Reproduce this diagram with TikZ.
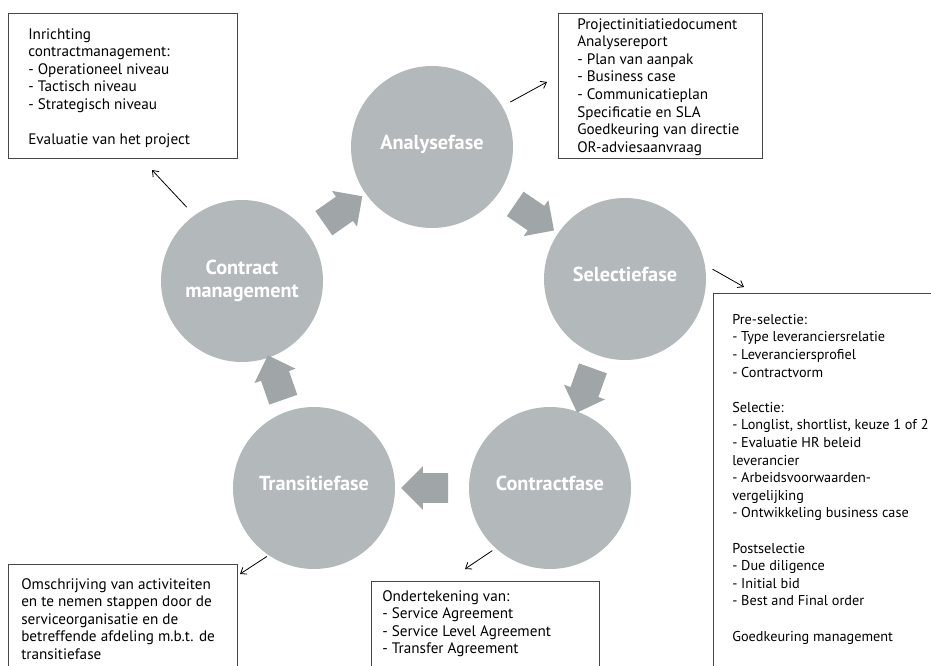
\documentclass[tikz,border=0pt]{standalone}
\usepackage{fontspec}
\setmainfont{PT Sans}
\usetikzlibrary{shapes.arrows,arrows.meta,calc}

\definecolor{phasegrey}{RGB}{179,184,186}
\definecolor{arrowgrey}{RGB}{160,166,168}
\definecolor{framegrey}{RGB}{70,70,70}

\begin{document}
\begin{tikzpicture}[x=0.75pt, y=-0.75pt,
    phase/.style={circle, fill=phasegrey, minimum size=121.5pt, inner sep=0pt,
        text=white, align=center, font=\fontsize{15.2}{17.5}\selectfont\bfseries},
    oneline/.style={text height=11pt, text depth=7pt},
    flowarrow/.style={single arrow, fill=arrowgrey, minimum height=35.25pt,
        inner xsep=0pt, inner ysep=10.9pt, single arrow head extend=5.25pt},
    notes/.style={anchor=north west, align=left, inner sep=0pt,
        font=\fontsize{11.4}{13.2}\selectfont},
    frame/.style={draw=framegrey, line width=0.7pt},
    link/.style={-{Straight Barb[length=4pt,width=6pt]}, line width=0.6pt}]

    \useasboundingbox (0,0) rectangle (931,666);
    \clip (0,0) rectangle (931,666);

    % phases
    \node[phase, oneline] (analyse) at (432,147) {Analysefase};
    \node[phase, oneline] (selectie) at (625,279) {Selectiefase};
    \node[phase, oneline] (contract) at (550,488) {Contractfase};
    \node[phase, oneline] (transitie) at (314,488) {Transitiefase};
    \node[phase] (management) at (242,281) {Contract\\management};

    \node[flowarrow, rotate=35] (f1) at ($(management)!0.5!(analyse)$) {};
    \node[flowarrow, rotate=-34.4] (f2) at ($(analyse)!0.5!(selectie)$) {};
    \node[flowarrow, rotate=-109.7] (f3) at ($(selectie)!0.5!(contract)$) {};
    \node[flowarrow, rotate=180] (f4) at ($(contract)!0.5!(transitie)$) {};
    \node[flowarrow, rotate=109.2] (f5) at ($(transitie)!0.5!(management)$) {};

    % notes
    \draw[frame] (8,13) rectangle (237,158);
    \node[notes] (mgmtnotes) at (28,28) {Inrichting\\contractmanagement:\\- Operationeel niveau\\- Tactisch niveau\\- Strategisch niveau\\[13.2pt]Evaluatie van het project};

    \draw[frame] (558,13) rectangle (762,158);
    \node[notes] (analysenotes) at (577,18) {Projectinitiatiedocument\\Analysereport\\- Plan van aanpak\\- Business case\\- Communicatieplan\\Specificatie en SLA\\Goedkeuring van directie\\OR-adviesaanvraag};

    \draw[frame] (713,293) rectangle (960,700);
    \node[notes, font=\fontsize{10.7}{13.2}\selectfont] (selectienotes) at (732,314) {Pre-selectie:\\- Type leveranciersrelatie\\- Leveranciersprofiel\\- Contractvorm\\[13.2pt]Selectie:\\- Longlist, shortlist, keuze 1 of 2\\- Evaluatie HR beleid\\leverancier\\- Arbeidsvoorwaarden-\\vergelijking\\- Ontwikkeling business case\\[13.2pt]Postselectie\\- Due diligence\\- Initial bid\\- Best and Final order\\[13.2pt]Goedkeuring management};

    \draw[frame] (371,581) rectangle (599,700);
    \node[notes] (contractnotes) at (382,590) {Ondertekening van:\\- Service Agreement\\- Service Level Agreement\\- Transfer Agreement};

    \draw[frame] (8,564) rectangle (237,700);
    \node[notes] (transitienotes) at (21,578) {Omschrijving van activiteiten\\en te nemen stappen door de\\serviceorganisatie en de\\betreffende afdeling m.b.t. de\\transitiefase};

    % links
    \coordinate (mgmtin) at (152,170);
    \coordinate (analysein) at (547,82);
    \coordinate (selectiein) at (744,287);
    \coordinate (contractin) at (465,569);
    \coordinate (transitiein) at (240,574);
    \draw[link, shorten <=8.25pt] (management.126.6) -- (mgmtin);
    \draw[link, shorten <=6.75pt] (analyse.30) -- (analysein);
    \draw[link, shorten <=6.4pt] (selectie.10) -- (selectiein);
    \draw[link, shorten <=3pt] (contract.228) -- (contractin);
    \draw[link, shorten <=1.5pt] (transitie.236) -- (transitiein);
\end{tikzpicture}
\end{document}
